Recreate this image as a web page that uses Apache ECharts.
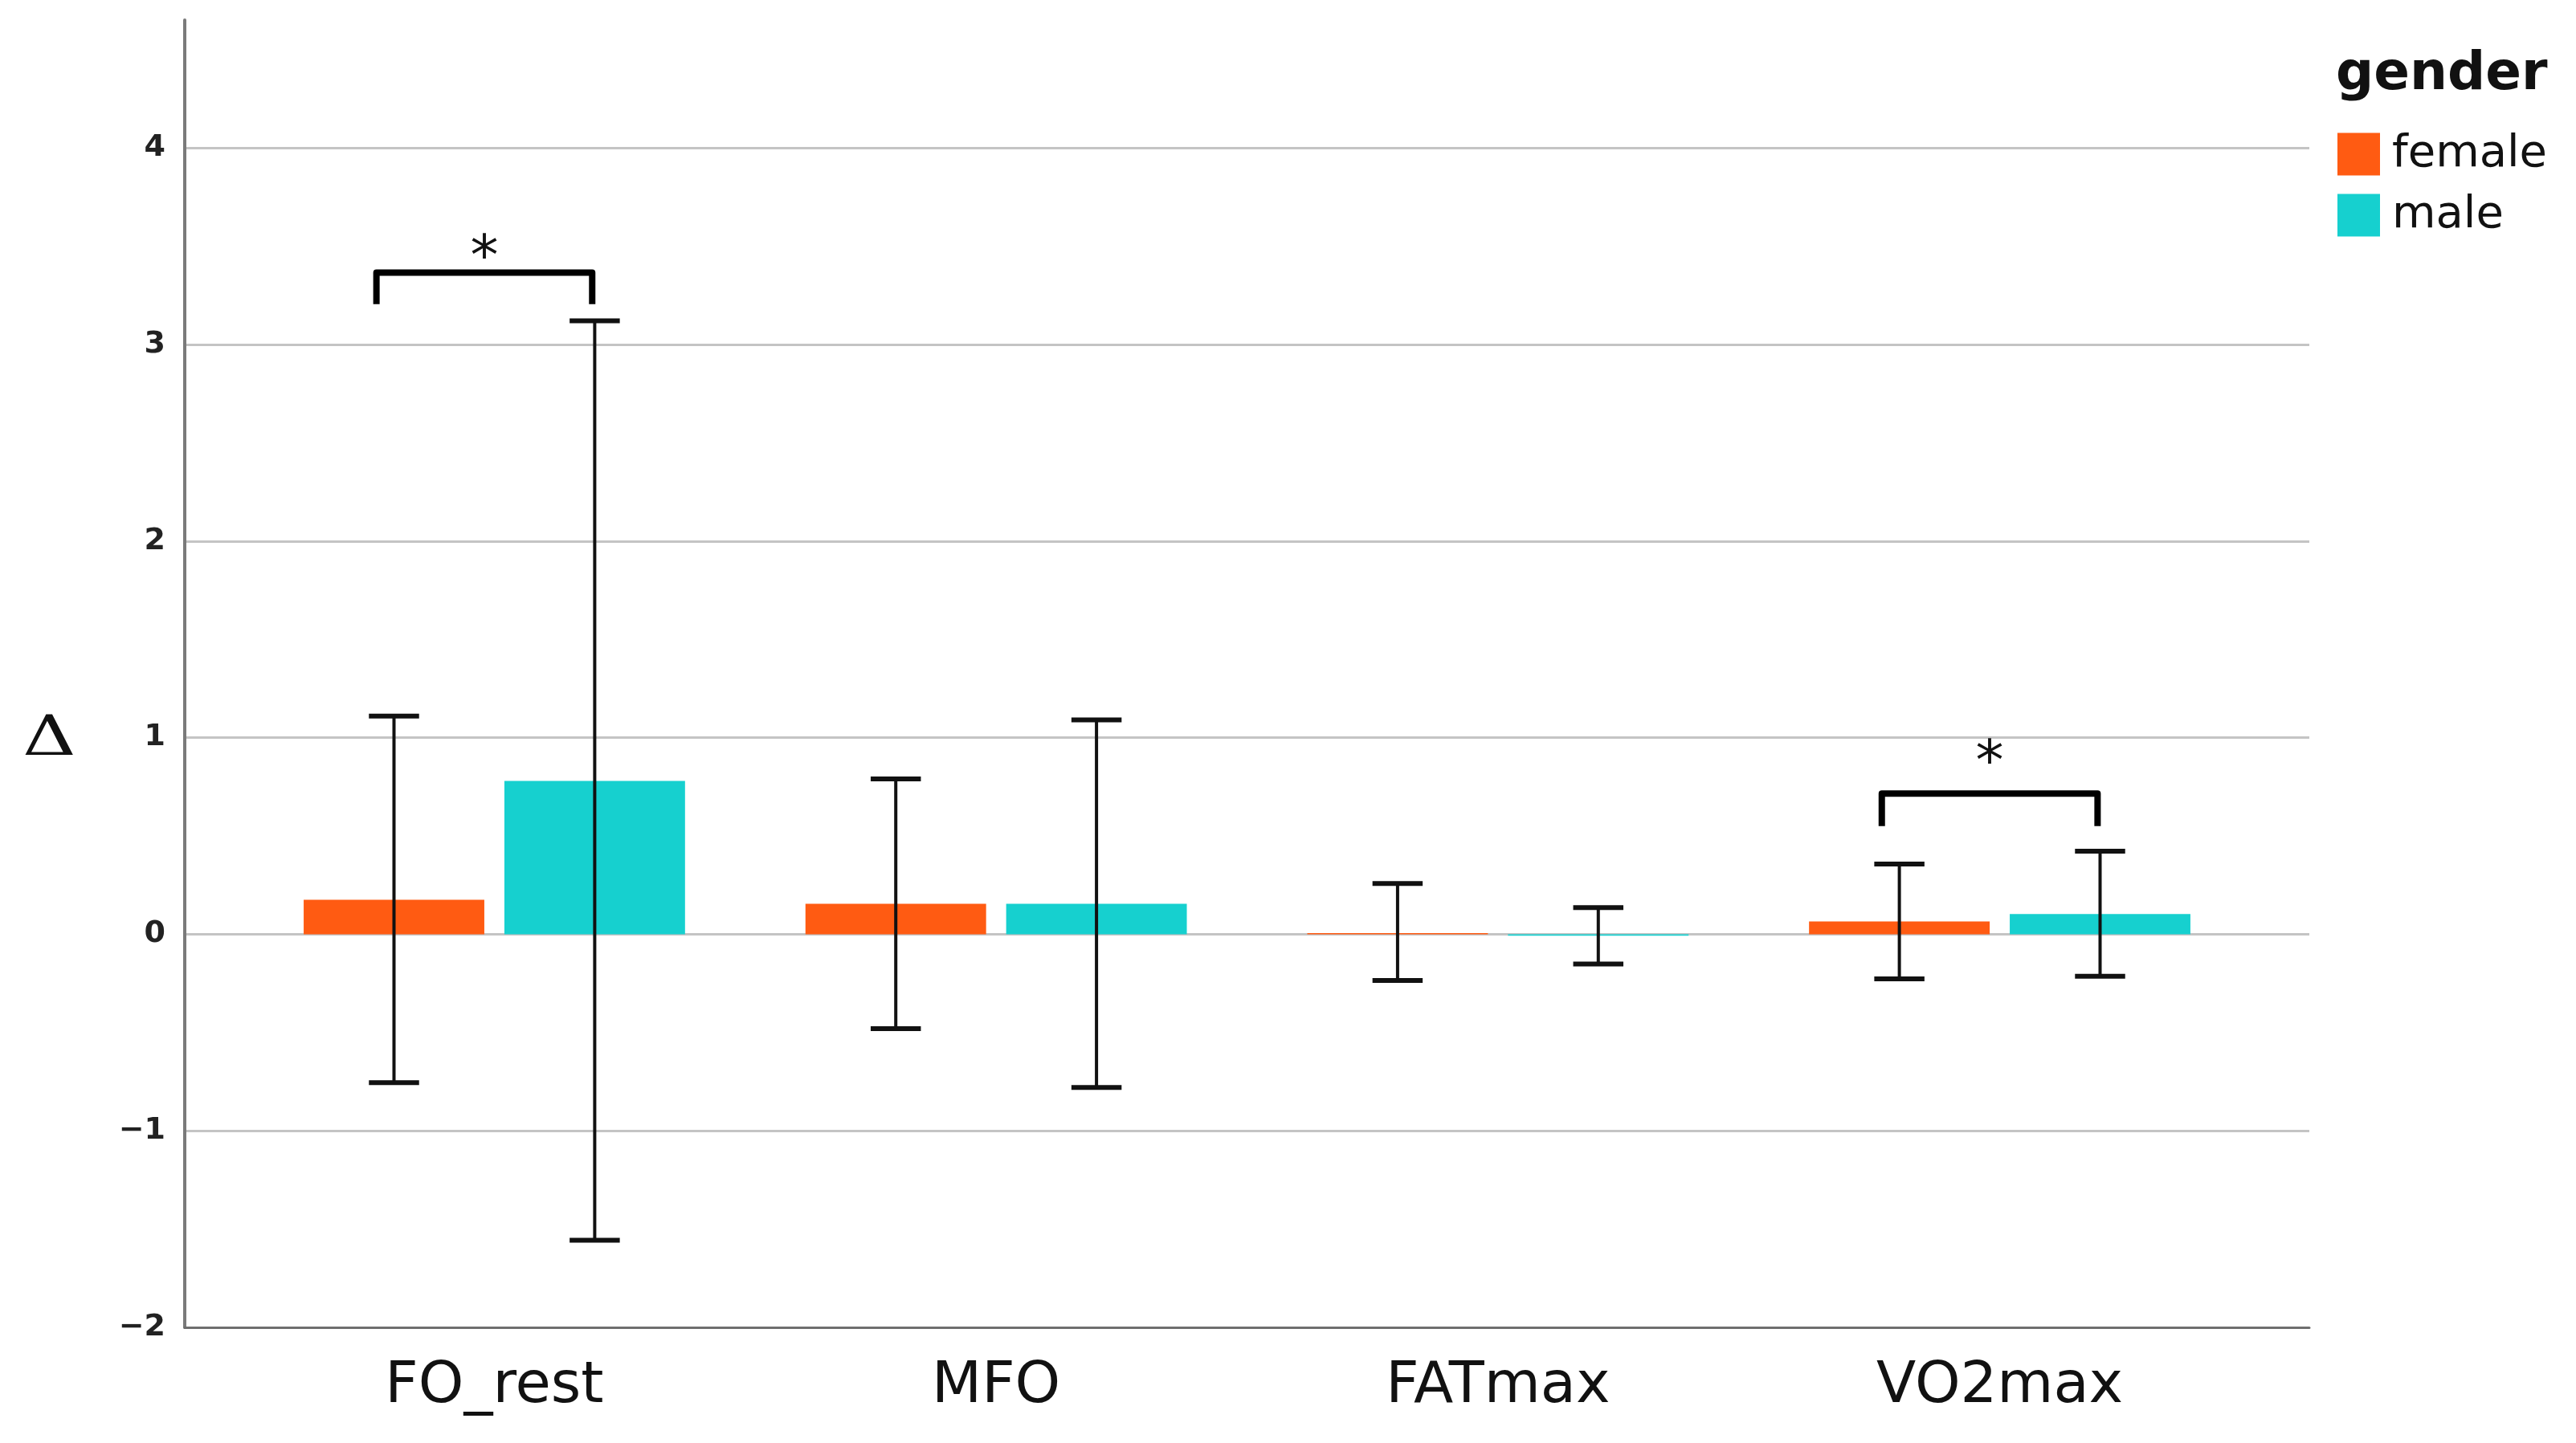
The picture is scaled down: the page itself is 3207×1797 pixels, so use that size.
<!DOCTYPE html>
<html><head><meta charset="utf-8">
<script src="https://cdn.jsdelivr.net/npm/echarts@6/dist/echarts.min.js"></script>
<style>html,body{margin:0;padding:0;background:#fff}#c{width:3207px;height:1797px}</style>
</head><body><div id="c"></div>
<script>
const categories = ['FO_rest', 'MFO', 'FATmax', 'VO2max'];
const femaleMean = [0.175, 0.155, 0.006, 0.065];
const femaleLow  = [-0.755, -0.48, -0.235, -0.227];
const femaleHigh = [1.11, 0.79, 0.258, 0.357];
const maleMean   = [0.78, 0.155, -0.008, 0.103];
const maleLow    = [-1.557, -0.78, -0.152, -0.214];
const maleHigh   = [3.12, 1.09, 0.135, 0.422];
const sigCategory = [0, 3];
const sigTop      = [3.365, 0.715];
const sigLeg      = [3.205, 0.55];
const sigStarAt   = [3.50, 0.93];
const sigLabel    = ['*', '*'];
const yTicks = [-2, -1, 0, 1, 2, 3, 4];

const FEMALE_COLOR = '#FF5B12';
const MALE_COLOR = '#16D0CF';
const BAR_W = 0.36, CAP_W = 0.1, OFF = 0.2;

function makeRender(offset, color) {
  return function (params, api) {
    const x = api.value(0), m = api.value(1), lo = api.value(2), hi = api.value(3);
    const cx = x + offset;
    const a = api.coord([cx - BAR_W / 2, m]);
    const b = api.coord([cx + BAR_W / 2, 0]);
    const top = api.coord([cx, hi]), bot = api.coord([cx, lo]);
    const cl = api.coord([cx - CAP_W / 2, hi])[0], cr = api.coord([cx + CAP_W / 2, hi])[0];
    return {
      type: 'group', children: [
        { type: 'rect', shape: { x: Math.min(a[0], b[0]), y: Math.min(a[1], b[1]), width: Math.abs(b[0] - a[0]), height: Math.max(Math.abs(b[1] - a[1]), 1.5) }, style: { fill: color } },
        { type: 'line', shape: { x1: top[0], y1: top[1], x2: bot[0], y2: bot[1] }, style: { stroke: '#111', lineWidth: 4 } },
        { type: 'line', shape: { x1: cl, y1: top[1], x2: cr, y2: top[1] }, style: { stroke: '#111', lineWidth: 6 } },
        { type: 'line', shape: { x1: cl, y1: bot[1], x2: cr, y2: bot[1] }, style: { stroke: '#111', lineWidth: 6 } }
      ]
    };
  };
}

function renderSig(params, api) {
  const i = api.value(0), t = api.value(1), l = api.value(2), s = api.value(3);
  const xl = i - OFF - 0.035, xr = i + OFF - 0.005;
  const pLB = api.coord([xl, l]), pLT = api.coord([xl, t]), pRT = api.coord([xr, t]), pRB = api.coord([xr, l]);
  const star = api.coord([(xl + xr) / 2, s]);
  return {
    type: 'group', children: [
      { type: 'polyline', shape: { points: [pLB, pLT, pRT, pRB] }, style: { stroke: '#000', lineWidth: 8, fill: null, lineJoin: 'round' } },
      { type: 'text', x: star[0], y: star[1] + 17, style: { text: sigLabel[params.dataIndex], fontSize: 70, fontFamily: 'DejaVu Sans', fill: '#111', align: 'center', verticalAlign: 'middle' } }
    ]
  };
}

const chart = echarts.init(document.getElementById('c'));
chart.setOption({
  backgroundColor: '#fff',
  animation: false,
  title: [
    { text: 'gender', left: 2903, top: 56, padding: 5, textStyle: { fontSize: 66, fontWeight: 'bold', fontFamily: 'DejaVu Sans', color: '#111' } }
  ],
  graphic: [
    { type: 'text', x: 28, y: 887, scaleX: 1.32, style: { text: 'Δ', fontSize: 70, fontFamily: 'DejaVu Serif', fill: '#111', align: 'left', verticalAlign: 'top' } }
  ],
  legend: {
    orient: 'vertical', left: 2905, top: 159, padding: 5,
    itemWidth: 53, itemHeight: 53, itemGap: 20,
    textStyle: { fontSize: 56, fontFamily: 'DejaVu Sans', color: '#111', padding: [0, 0, 0, 10] },
    data: [{ name: 'female', icon: 'rect' }, { name: 'male', icon: 'rect' }]
  },
  grid: { left: 230, right: 332, top: 25, bottom: 144, containLabel: false },
  xAxis: {
    type: 'value', min: -0.617, max: 3.617,
    splitLine: { show: false },
    axisTick: { show: false },
    axisLine: { show: true, onZero: false, lineStyle: { color: '#6e6e6e', width: 3 } },
    axisLabel: {
      customValues: [0, 1, 2, 3],
      formatter: v => categories[Math.round(v)] || '',
      fontSize: 72, fontFamily: 'DejaVu Sans', color: '#111', margin: 38
    }
  },
  yAxis: {
    type: 'value', min: -2, max: 4.65, interval: 1,
    axisLine: { show: true, onZero: false, lineStyle: { color: '#7a7a7a', width: 4 } },
    axisTick: { show: false },
    splitLine: { show: true, showMinLine: false, showMaxLine: false, lineStyle: { color: '#c4c4c4', width: 3 } },
    axisLabel: {
      customValues: yTicks,
      formatter: v => String(v).replace('-', '\u2212'),
      fontSize: 38, fontWeight: 'bold', fontFamily: 'DejaVu Sans', color: '#222', margin: 24
    }
  },
  series: [
    {
      name: 'female', type: 'custom', itemStyle: { color: FEMALE_COLOR },
      renderItem: makeRender(-OFF, FEMALE_COLOR),
      encode: { x: 0, y: [1, 2, 3] },
      data: categories.map((c, i) => [i, femaleMean[i], femaleLow[i], femaleHigh[i]])
    },
    {
      name: 'male', type: 'custom', itemStyle: { color: MALE_COLOR },
      renderItem: makeRender(OFF, MALE_COLOR),
      encode: { x: 0, y: [1, 2, 3] },
      data: categories.map((c, i) => [i, maleMean[i], maleLow[i], maleHigh[i]])
    },
    {
      name: 'sig', type: 'custom', silent: true,
      renderItem: renderSig,
      encode: { x: 0, y: [1, 2, 3] },
      data: sigCategory.map((c, k) => [c, sigTop[k], sigLeg[k], sigStarAt[k]])
    }
  ]
});
</script></body></html>
